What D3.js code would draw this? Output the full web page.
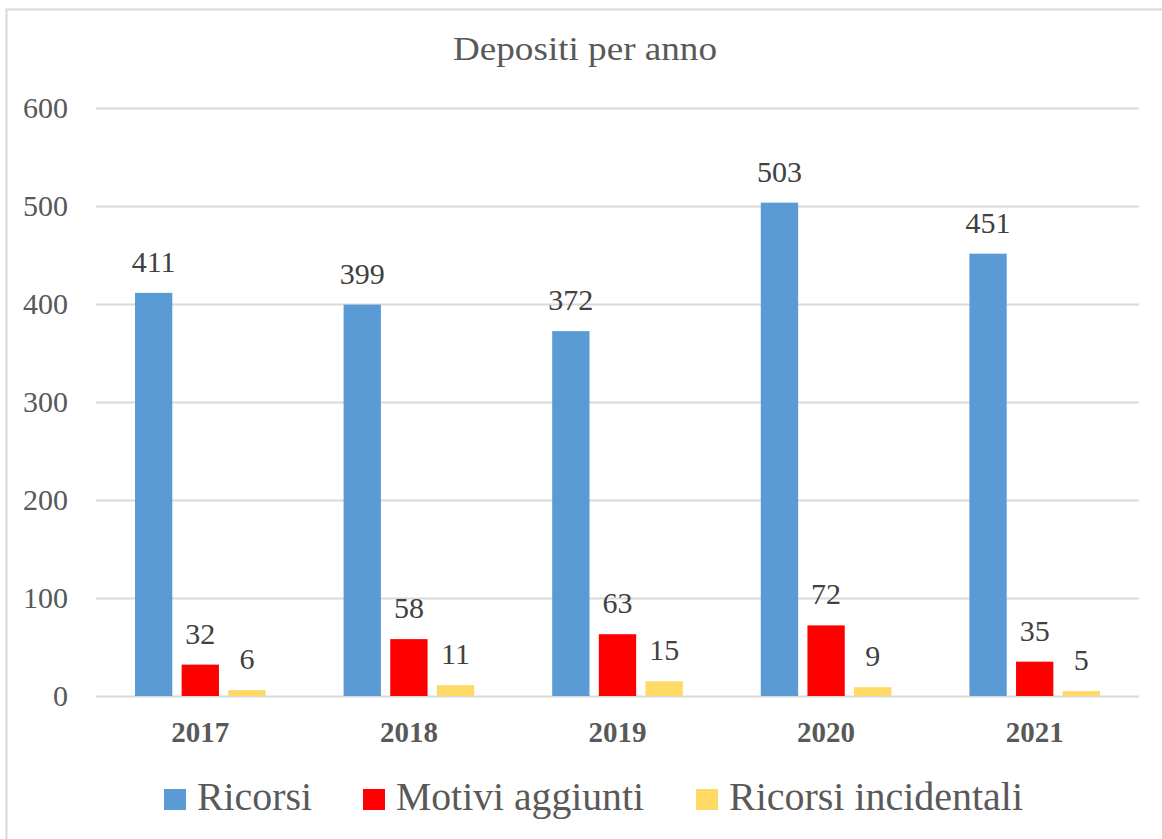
<!DOCTYPE html>
<html>
<head>
<meta charset="utf-8">
<script src="https://cdn.jsdelivr.net/npm/d3@7"></script>
<style>
  html, body { margin: 0; padding: 0; background: #fff; }
  svg { display: block; }
  svg text { font-family: "Liberation Serif", "Times New Roman", "DejaVu Serif", serif; }
</style>
</head>
<body>
<div id="chart"></div>
<script>
// data
const years = ["2017", "2018", "2019", "2020", "2021"];
const seriesNames = ["Ricorsi", "Motivi aggiunti", "Ricorsi incidentali"];
const ricorsi = [411, 399, 372, 503, 451];
const motiviAggiunti = [32, 58, 63, 72, 35];
const ricorsiIncidentali = [6, 11, 15, 9, 5];
const yTicks = [0, 100, 200, 300, 400, 500, 600];

const colors = ["#5B9BD5", "#FF0000", "#FFD966"];
const allSeries = [ricorsi, motiviAggiunti, ricorsiIncidentali];

const W = 1162, H = 839;
const plot = { left: 96, right: 1139, top: 107.5, bottom: 696 };

const svg = d3.select("#chart").append("svg")
  .attr("width", W).attr("height", H);

// chart border (cut by the window on right and bottom)
svg.append("rect")
  .attr("x", 6.5).attr("y", 9.5)
  .attr("width", W + 10).attr("height", H + 10)
  .attr("fill", "#fff")
  .attr("stroke", "#D9D9D9")
  .attr("stroke-width", 2);

const x0 = d3.scaleBand().domain(years).range([plot.left, plot.right]);
const x1 = d3.scaleBand().domain(seriesNames)
  .range([39, x0.bandwidth() - 39])
  .paddingInner(0.2);
const y = d3.scaleLinear().domain([0, 600]).range([plot.bottom, plot.top]);

// gridlines
svg.append("g").selectAll("line")
  .data(yTicks)
  .join("line")
  .attr("x1", plot.left).attr("x2", plot.right)
  .attr("y1", d => Math.round(y(d)) + 0.5)
  .attr("y2", d => Math.round(y(d)) + 0.5)
  .attr("stroke", "#D9D9D9")
  .attr("stroke-width", 2);

// y tick labels
svg.append("g").selectAll("text")
  .data(yTicks)
  .join("text")
  .attr("x", 68)
  .attr("y", d => y(d) + 10)
  .attr("text-anchor", "end")
  .attr("font-size", 30)
  .attr("fill", "#595959")
  .text(d => d);

// bars
const groups = svg.append("g").selectAll("g")
  .data(years)
  .join("g")
  .attr("transform", d => `translate(${x0(d)},0)`);

groups.selectAll("rect")
  .data((d, i) => seriesNames.map((s, j) => ({ s, j, v: allSeries[j][i] })))
  .join("rect")
  .attr("x", d => x1(d.s))
  .attr("width", x1.bandwidth())
  .attr("y", d => y(d.v))
  .attr("height", d => y(0) - y(d.v))
  .attr("fill", d => colors[d.j]);

// value labels
groups.selectAll("text.val")
  .data((d, i) => seriesNames.map((s, j) => ({ s, j, v: allSeries[j][i] })))
  .join("text")
  .attr("class", "val")
  .attr("x", d => x1(d.s) + x1.bandwidth() / 2)
  .attr("y", d => y(d.v) - 21)
  .attr("text-anchor", "middle")
  .attr("font-size", 30)
  .attr("fill", "#404040")
  .text(d => d.v);

// x axis labels
svg.append("g").selectAll("text")
  .data(years)
  .join("text")
  .attr("x", d => x0(d) + x0.bandwidth() / 2)
  .attr("y", 742)
  .attr("text-anchor", "middle")
  .attr("font-size", 29)
  .attr("font-weight", "bold")
  .attr("fill", "#595959")
  .text(d => d);

// title
svg.append("text")
  .attr("x", 585).attr("y", 59.5)
  .attr("text-anchor", "middle")
  .attr("font-size", 33)
  .attr("fill", "#595959")
  .attr("textLength", 264)
  .attr("lengthAdjust", "spacingAndGlyphs")
  .text("Depositi per anno");

// legend
const legendX = [164, 363, 696];
const legendW = [115, 248, 294];
const legend = svg.append("g").selectAll("g")
  .data(seriesNames)
  .join("g")
  .attr("transform", (d, i) => `translate(${legendX[i]},0)`);

legend.append("rect")
  .attr("x", 0).attr("y", 789)
  .attr("width", 22).attr("height", 21)
  .attr("fill", (d, i) => colors[i]);

legend.append("text")
  .attr("x", 33).attr("y", 810)
  .attr("font-size", 40)
  .attr("fill", "#595959")
  .attr("textLength", (d, i) => legendW[i])
  .attr("lengthAdjust", "spacingAndGlyphs")
  .text(d => d);
</script>
</body>
</html>
